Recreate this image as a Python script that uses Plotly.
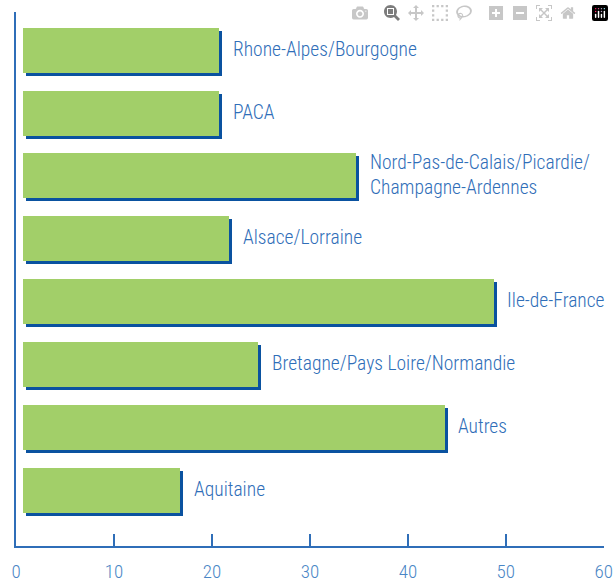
import plotly.graph_objects as go

regions = ["Rhone-Alpes/Bourgogne", "PACA", "Nord-Pas-de-Calais/Picardie/<br>Champagne-Ardennes",
           "Alsace/Lorraine", "Ile-de-France", "Bretagne/Pays Loire/Normandie", "Autres", "Aquitaine"]
values = [21, 21, 35, 22, 49, 25, 44, 17]
tick_vals = [0, 10, 20, 30, 40, 50, 60]

GREEN = "#a2cf69"
SHADOW = "#0a52a0"
BLUE = "#2f6eb8"
FONT = "Roboto Condensed, DejaVu Sans Condensed, sans-serif"

pos = list(range(len(values)))
bar_w = 0.716
dy = 0.048

fig = go.Figure()
fig.add_trace(go.Bar(
    y=[p + dy for p in pos], x=[v - 0.95 for v in values], base=1.0,
    orientation="h", width=bar_w, marker=dict(color=SHADOW, line=dict(width=0)),
    hoverinfo="skip", showlegend=False))
fig.add_trace(go.Bar(
    y=pos, x=[v - 0.95 for v in values], base=0.7,
    orientation="h", width=bar_w, marker=dict(color=GREEN, line=dict(width=0)),
    showlegend=False))

for p, v, name in zip(pos, values, regions):
    fig.add_annotation(x=v, y=p, text=name, showarrow=False, xanchor="left", yanchor="middle",
                       xshift=9, yshift=1, align="left",
                       font=dict(family=FONT, size=19.5, weight=300, color=BLUE))

fig.update_layout(
    width=614, height=583,
    margin=dict(l=16, r=10, t=12, b=37),
    paper_bgcolor="white", plot_bgcolor="white",
    barmode="overlay", bargap=0,
    xaxis=dict(range=[0, 60.02], tickvals=tick_vals, ticks="inside", ticklen=12, tickwidth=1.5,
               tickcolor=BLUE, showline=True, linecolor=BLUE, linewidth=1.5,
               showgrid=False, zeroline=False, ticklabelstandoff=7, automargin=False,
               ticklabeloverflow="allow",
               tickfont=dict(family=FONT, size=19, weight=300, color="#4a86c6")),
    yaxis=dict(range=[7.89, -0.61], showticklabels=False, ticks="", showline=True, automargin=False,
               linecolor=BLUE, linewidth=1.5, showgrid=False, zeroline=False),
)

# remove the default 8px page margin so the 614x583 figure fills the window exactly
fig.write_html("out.html",
               post_script="document.body.style.margin='0';document.body.style.overflow='hidden';")
